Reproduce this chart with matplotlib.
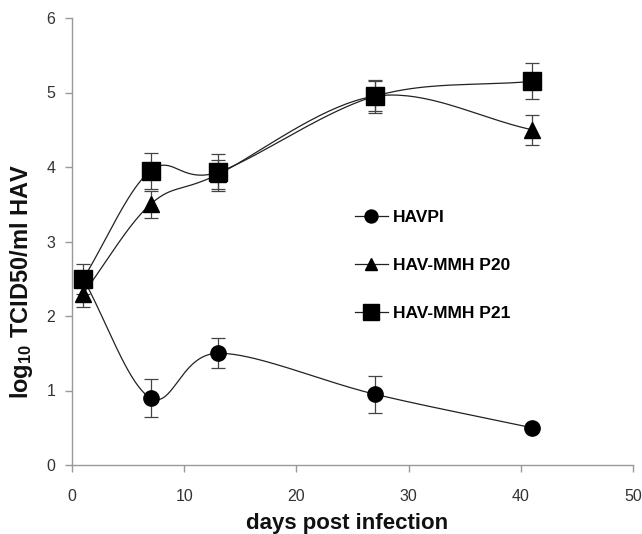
import numpy as np
import matplotlib
matplotlib.use("Agg")
import matplotlib.pyplot as plt

plt.rcParams['font.family'] = ['Liberation Sans', 'DejaVu Sans']
plt.rcParams['mathtext.fontset'] = 'custom'
plt.rcParams['mathtext.rm'] = 'Liberation Sans:bold'
plt.rcParams['mathtext.bf'] = 'Liberation Sans:bold'
plt.rcParams['mathtext.default'] = 'bf'

days = [1, 7, 13, 27, 41]
havpi = [2.5, 0.9, 1.5, 0.95, 0.5]
havpi_err = [0.0, 0.26, 0.2, 0.25, 0.0]
p20 = [2.3, 3.5, 3.9, 4.95, 4.5]
p20_err = [0.18, 0.18, 0.2, 0.2, 0.2]
p21 = [2.5, 3.95, 3.93, 4.95, 5.15]
p21_err = [0.2, 0.24, 0.25, 0.22, 0.24]
labels = ['HAVPI', 'HAV-MMH P20', 'HAV-MMH P21']


def smooth(x, y, n=40):
    x = np.asarray(x, float); y = np.asarray(y, float)
    px = np.concatenate([[2 * x[0] - x[1]], x, [2 * x[-1] - x[-2]]])
    py = np.concatenate([[2 * y[0] - y[1]], y, [2 * y[-1] - y[-2]]])
    xs, ys = [], []
    for i in range(1, len(px) - 2):
        p0, p1, p2, p3 = [np.array([px[j], py[j]]) for j in (i - 1, i, i + 1, i + 2)]
        c1 = p1 + (p2 - p0) / 6.0
        c2 = p2 - (p3 - p1) / 6.0
        t = np.linspace(0, 1, n)[:, None]
        b = ((1 - t) ** 3) * p1 + 3 * ((1 - t) ** 2) * t * c1 + 3 * (1 - t) * t ** 2 * c2 + t ** 3 * p2
        xs.append(b[:, 0]); ys.append(b[:, 1])
    return np.concatenate(xs), np.concatenate(ys)


fig = plt.figure(figsize=(6.42, 5.34), dpi=100)
ax = fig.add_axes([72 / 642, 69 / 534, 561 / 642, 447 / 534])

series = [(havpi, havpi_err, 'o', 11), (p20, p20_err, '^', 11), (p21, p21_err, 's', 13)]
handles = []
for (vals, err, m, ms), lab in zip(series, labels):
    sx, sy = smooth(days, vals)
    ax.plot(sx, sy, color='#222222', lw=0.9, zorder=2)
    ax.errorbar(days, vals, yerr=err, fmt='none', ecolor='#444444', elinewidth=0.9,
                capsize=5, capthick=0.9, zorder=3)
    ax.plot(days, vals, linestyle='none', marker=m, ms=ms, color='black', zorder=4)
    h, = ax.plot([], [], color='#222222', lw=0.9, marker=m, ms=ms * 0.85,
                 markerfacecolor='black', markeredgecolor='black')
    handles.append(h)

ax.set_xlim(0, 50)
ax.set_ylim(0, 6)
ax.set_xticks([0, 10, 20, 30, 40, 50])
ax.set_yticks([0, 1, 2, 3, 4, 5, 6])
for s in ['top', 'right']:
    ax.spines[s].set_visible(False)
for s in ['left', 'bottom']:
    ax.spines[s].set_color('#999999')
    ax.spines[s].set_linewidth(1.0)
ax.tick_params(axis='both', colors='#999999', labelcolor='#333333', labelsize=11.5,
               direction='out', length=5, width=1.0)
ax.tick_params(axis='y', pad=7)
ax.tick_params(axis='x', pad=12)

fig.text(347 / 642, 1 - 523 / 534, 'days post infection', fontsize=16, fontweight='bold',
         color='#111111', ha='center', va='center')
fig.text(22 / 642, 1 - 281 / 534, 'log$_{10}$ TCID50/ml HAV', fontsize=17, fontweight='bold',
         color='#111111', ha='center', va='center', rotation=90)

leg = ax.legend(handles, labels, loc='upper left', bbox_to_anchor=(339 / 642, 1 - 194 / 534),
                bbox_transform=fig.transFigure, frameon=False, handlelength=1.9,
                labelspacing=1.9, handletextpad=0.3, prop={'weight': 'bold', 'size': 12.5})

fig.savefig('out.png', dpi=100)
